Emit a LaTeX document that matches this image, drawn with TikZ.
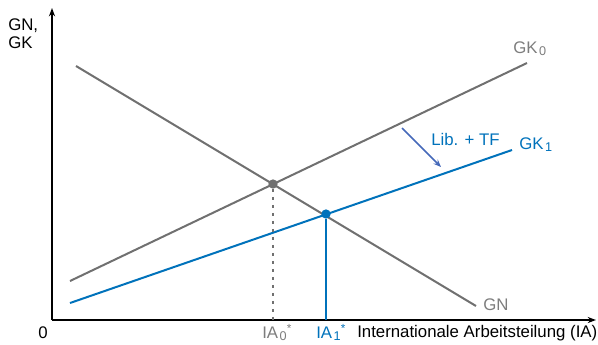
\documentclass[tikz,border=0pt]{standalone}
\usepackage{fontspec}
\setmainfont{Liberation Sans}
\usepackage{xcolor}
\usetikzlibrary{positioning,arrows.meta}
\definecolor{CurveGray}{RGB}{112,112,112}
\definecolor{LabelGray}{RGB}{125,125,125}
\definecolor{ShiftBlue}{RGB}{0,114,187}
\definecolor{ArrowBlue}{RGB}{70,105,185}
\newcommand{\lowidx}[1]{\kern1.2pt\raisebox{-0.25ex}{\fontsize{9.5}{10}\selectfont #1}}

\begin{document}
\begin{tikzpicture}[
  x=0.75pt, y=-0.75pt,
  every node/.style={font=\fontsize{12.6}{13.5}\selectfont, inner sep=0pt},
  axis/.style={-{Stealth[length=2.2mm, width=1.6mm]}, line width=1.1pt, black},
  curve/.style={line width=1.5pt, draw=CurveGray},
  shifted/.style={line width=1.5pt, draw=ShiftBlue},
  dot/.style={circle, inner sep=0pt, minimum size=7pt}
]
\useasboundingbox (0,0) rectangle (598,344);

% axes
\coordinate (origin) at (52,320);
\coordinate (ytop) at (52,8);
\coordinate (xend) at (596,320);
\draw[axis] (origin) -- (ytop);
\draw[axis] (origin) -- (xend);
\node[anchor=north west, align=left] (ylab) at (8,18) {GN,\\GK};
\node (zero) at (43,333) {0};
\node[anchor=west] (xlab) at (357,333) {Internationale Arbeitsteilung (IA)};

% curves
\coordinate (gk0a) at (70,281);
\coordinate (gk0b) at (527,63);
\coordinate (gna) at (76,66);
\coordinate (gnb) at (476,306);
\coordinate (gk1a) at (70,303);
\coordinate (gk1b) at (512,150);
\draw[curve] (gk0a) -- (gk0b);
\draw[curve] (gna) -- (gnb);
\draw[shifted] (gk1a) -- (gk1b);
\node[text=LabelGray, anchor=west] (gk0lab) at (513,49) {GK\lowidx{0}};
\node[text=LabelGray, anchor=west] (gnlab) at (483,305) {GN};
\node[text=ShiftBlue, anchor=west] (gk1lab) at (519,145) {GK\lowidx{1}};

% equilibria
\node[dot, fill=CurveGray] (eq0) at (273,184) {};
\node[dot, fill=ShiftBlue] (eq1) at (326,214) {};
\draw[CurveGray, line width=1.6pt, dash pattern=on 2pt off 4pt] (eq0) -- (eq0 |- origin);
\draw[shifted] (eq1) -- (eq1 |- origin);
\node[text=LabelGray, anchor=base west] (ia0) at (262,338) {IA\lowidx{0}\textsuperscript{*}};
\node[text=ShiftBlue, anchor=base west] (ia1) at (316,338) {IA\lowidx{1}\textsuperscript{*}};

% shift
\coordinate (shiftfrom) at (402,128);
\coordinate (shiftto) at (441,167);
\draw[-{Stealth[length=2mm, width=1.6mm]}, line width=1.2pt, ArrowBlue] (shiftfrom) -- (shiftto);
\node[text=ShiftBlue, anchor=west] (shiftlab) at (431,139) {Lib. + TF};
\end{tikzpicture}
\end{document}
